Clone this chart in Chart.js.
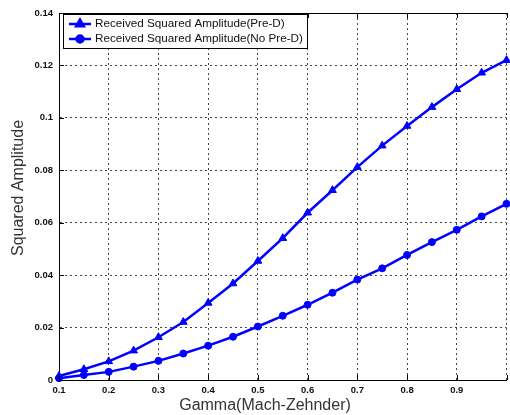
<!DOCTYPE html>
<html><head><meta charset="utf-8">
<script src="https://cdn.jsdelivr.net/npm/chart.js@4/dist/chart.umd.min.js"></script>
<style>html,body{margin:0;padding:0;overflow:hidden;background:#fff}#wrap{width:512px;height:415px}</style>
</head><body><div id="wrap"><canvas id="c" width="512" height="415"></canvas></div>
<script>
const gammaValues = [0.1,0.15,0.2,0.25,0.3,0.35,0.4,0.45,0.5,0.55,0.6,0.65,0.7,0.75,0.8,0.85,0.9,0.95,1.0];
const preD   = [0.0015,0.0041,0.0071,0.0112,0.0163,0.0221,0.0294,0.0368,0.0454,0.0541,0.0638,0.0724,0.0812,0.0894,0.0969,0.1041,0.1109,0.1172,0.1220];
const noPreD = [0.0007,0.0019,0.0031,0.0051,0.0073,0.0101,0.0131,0.0165,0.0204,0.0245,0.0287,0.0333,0.0383,0.0426,0.0477,0.0526,0.0573,0.0624,0.0672];
const xTickValues = [0.1,0.2,0.3,0.4,0.5,0.6,0.7,0.8,0.9,1.0];
const xTickLabels = ['0.1','0.2','0.3','0.4','0.5','0.6','0.7','0.8','0.9',''];
const yTickValues = [0,0.02,0.04,0.06,0.08,0.1,0.12,0.14];
const yTickLabels = ['0','0.02','0.04','0.06','0.08','0.1','0.12','0.14'];
const seriesLabels = ['Received Squared Amplitude(Pre-D)','Received Squared Amplitude(No Pre-D)'];
const xTitle = 'Gamma(Mach-Zehnder)';
const yTitle = 'Squared Amplitude';

const BLUE = '#0000ff';
const FONT = '"Liberation Sans", Arial, sans-serif';

const framePlugin = {
  id: 'frame',
  afterDatasetsDraw(chart) {
    const ctx = chart.ctx, a = chart.chartArea;
    const xs = chart.scales.x, ys = chart.scales.y;
    ctx.save();
    ctx.strokeStyle = '#000'; ctx.lineWidth = 1;
    ctx.beginPath();
    ctx.moveTo(a.left, a.top + 0.5); ctx.lineTo(a.right, a.top + 0.5);
    xTickValues.forEach(v => {
      const px = Math.round(xs.getPixelForValue(v)) + 0.5;
      ctx.moveTo(px, a.top); ctx.lineTo(px, a.top + 5);
      ctx.moveTo(px, a.bottom); ctx.lineTo(px, a.bottom - 5);
    });
    yTickValues.forEach(v => {
      const py = Math.round(ys.getPixelForValue(v)) + 0.5;
      ctx.moveTo(a.left, py); ctx.lineTo(a.left + 5, py);
    });
    ctx.stroke();

    // legend box
    const bx = 63, by = 14, bw = 244, bh = 34;
    ctx.fillStyle = '#fff';
    ctx.fillRect(bx, by, bw, bh);
    ctx.strokeStyle = '#000'; ctx.lineWidth = 1;
    ctx.strokeRect(bx + 0.5, by + 0.5, bw, bh);
    const rows = [24, 39];
    chart.data.datasets.forEach((ds, i) => {
      const y = rows[i];
      ctx.strokeStyle = ds.borderColor; ctx.lineWidth = 2.5;
      ctx.beginPath(); ctx.moveTo(69, y); ctx.lineTo(91, y); ctx.stroke();
      ctx.fillStyle = ds.pointBackgroundColor; ctx.strokeStyle = ds.pointBorderColor;
      Chart.helpers.drawPoint(ctx, {pointStyle: ds.pointStyle, radius: ds.pointRadius, rotation: 0, borderWidth: 1}, 80, y);
      ctx.fillStyle = '#111';
      ctx.font = '11.7px ' + FONT;
      ctx.textBaseline = 'middle'; ctx.textAlign = 'left';
      ctx.fillText(ds.label, 95, y);
    });

    // axis titles
    ctx.fillStyle = '#333';
    ctx.font = '16px ' + FONT;
    ctx.textAlign = 'center'; ctx.textBaseline = 'middle';
    ctx.fillText(xTitle, 265, 406);
    ctx.translate(19, 188); ctx.rotate(-Math.PI / 2);
    ctx.fillText(yTitle, 0, 0);
    ctx.restore();
  }
};

new Chart(document.getElementById('c'), {
  type: 'line',
  data: {
    datasets: [
      { label: seriesLabels[0], data: gammaValues.map((g, i) => ({x: g, y: preD[i]})),
        borderColor: BLUE, backgroundColor: BLUE, pointBackgroundColor: BLUE, pointBorderColor: BLUE,
        pointStyle: 'triangle', pointRadius: 4.5, pointBorderWidth: 1, borderWidth: 2.5, tension: 0 },
      { label: seriesLabels[1], data: gammaValues.map((g, i) => ({x: g, y: noPreD[i]})),
        borderColor: BLUE, backgroundColor: BLUE, pointBackgroundColor: BLUE, pointBorderColor: BLUE,
        pointStyle: 'circle', pointRadius: 3.5, pointBorderWidth: 1, borderWidth: 2.5, tension: 0 }
    ]
  },
  options: {
    responsive: false, animation: false, devicePixelRatio: 1,
    clip: false,
    layout: { padding: { left: 0, right: 1, top: 13, bottom: 0 } },
    plugins: { legend: { display: false }, tooltip: { enabled: false } },
    scales: {
      x: {
        type: 'linear', min: 0.1, max: 1.0,
        afterBuildTicks: s => { s.ticks = xTickValues.map(v => ({value: v})); },
        afterFit: s => { s.height = 35; },
        grid: { color: '#444', lineWidth: 1, drawTicks: false },
        border: { color: '#000', width: 1, dash: [2, 3] },
        ticks: { padding: 5, color: '#111', font: { family: FONT, size: 9.5, weight: 'bold' },
                 callback: (v, i) => xTickLabels[i], maxRotation: 0, autoSkip: false }
      },
      y: {
        type: 'linear', min: 0, max: 0.14,
        afterBuildTicks: s => { s.ticks = yTickValues.map(v => ({value: v})); },
        afterFit: s => { s.width = 59; },
        grid: { color: '#444', lineWidth: 1, drawTicks: false },
        border: { color: '#000', width: 1, dash: [2, 3] },
        ticks: { padding: 6, color: '#111', font: { family: FONT, size: 9.5, weight: 'bold' },
                 callback: (v, i) => yTickLabels[i], autoSkip: false }
      }
    }
  },
  plugins: [framePlugin]
});
</script>
</body></html>
